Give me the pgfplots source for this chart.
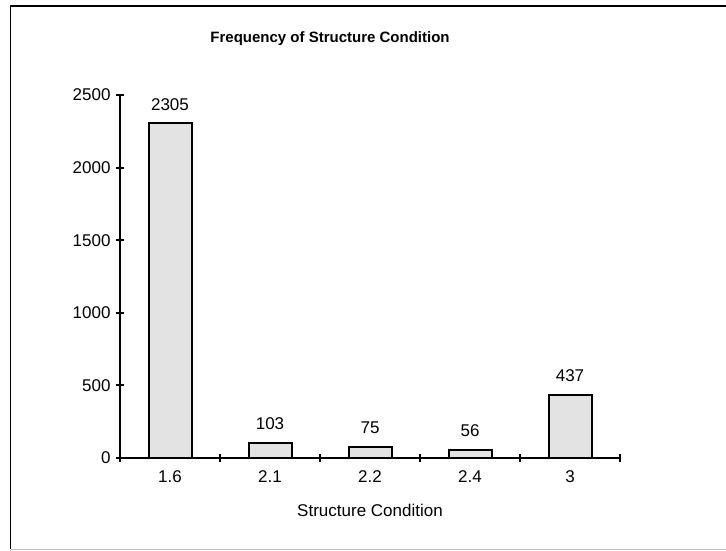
\documentclass[border=0pt]{standalone}
\usepackage{fontspec}
\setmainfont{Liberation Sans}
\usepackage{pgfplots}
\pgfplotsset{compat=1.18}
\definecolor{barfill}{HTML}{E3E3E3}
\begin{document}
\begin{tikzpicture}[x=1pt,y=1pt]
\path[use as bounding box] (0,0) rectangle (726,550);
\draw[line width=1.8pt] (10.5,1) -- (10.5,544) -- (726,544);
\draw[black!25, line width=1pt] (10.5,1) -- (726,1);
\begin{axis}[
  at={(120pt,92pt)}, anchor=south west,
  scale only axis, width=500pt, height=363pt,
  xmin=-0.5, xmax=4.5, ymin=0, ymax=2500,
  axis x line=bottom, axis y line=left,
  axis line style={-, line width=2pt},
  xtick={0,1,2,3,4},
  xticklabels={1.6,2.1,2.2,2.4,3},
  minor xtick={-0.5,0.5,1.5,2.5,3.5,4.5},
  major x tick style={draw=none},
  minor x tick style={black, line width=2pt},
  ytick={0,500,1000,1500,2000,2500},
  ytick style={black, line width=2pt},
  tick align=center,
  major tick length=8pt, minor tick length=8pt,
  /pgf/number format/.cd, 1000 sep={}, assume math mode=true,
  /pgfplots/.cd,
  tick label style={font=\fontsize{17}{20}\selectfont},
  xticklabel style={yshift=-5pt},
  yticklabel style={xshift=-2pt},
  title={\bfseries Frequency of Structure Condition},
  title style={font=\fontsize{15}{18}\selectfont, at={(0.42,1)}, anchor=center, yshift=50pt},
  xlabel={Structure Condition},
  xlabel style={font=\fontsize{17}{20}\selectfont, at={(0.5,0)}, anchor=center, yshift=-52pt},
  nodes near coords,
  nodes near coords style={font=\fontsize{17}{20}\selectfont, anchor=center, yshift=19pt},
  clip=false,
]
\addplot[ybar, bar width=43pt, fill=barfill, draw=black, line width=2pt]
  coordinates {(0,2305) (1,103) (2,75) (3,56) (4,437)};
\end{axis}
\end{tikzpicture}
\end{document}
